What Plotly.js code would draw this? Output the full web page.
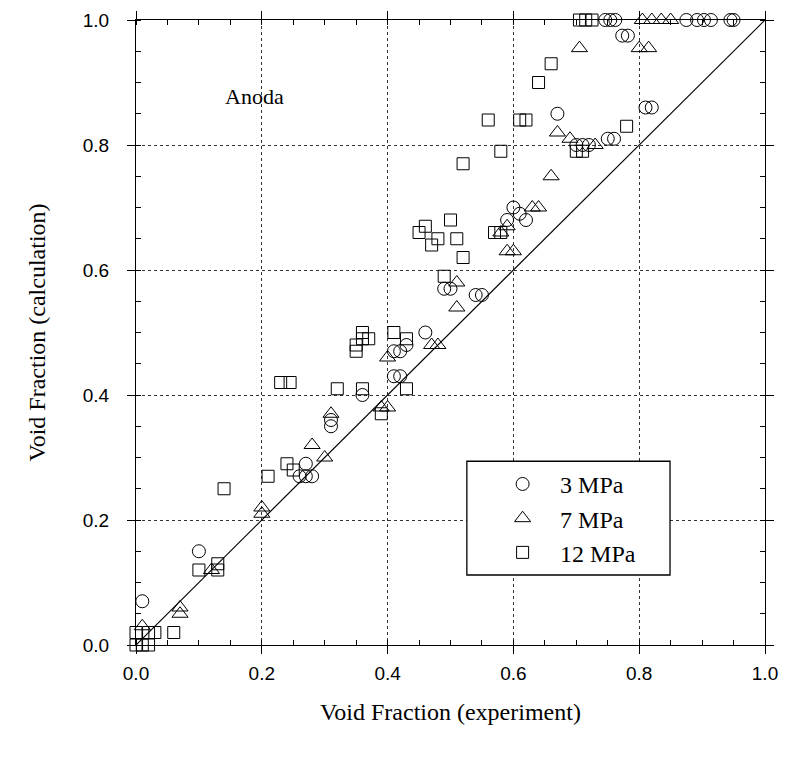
<!DOCTYPE html>
<html>
<head>
<meta charset="utf-8">
<script src="https://cdn.plot.ly/plotly-3.0.1.min.js"></script>
<style>html,body{margin:0;padding:0;background:#fff;}#chart{width:787px;height:758px;}</style>
</head>
<body>
<div id="chart"></div>
<script>
// 3 MPa (circles)
const x3 = [0.01,0.10,0.27,0.26,0.27,0.28,0.31,0.31,0.36,0.41,0.42,0.41,0.42,0.43,0.46,0.49,0.50,0.54,0.55,0.59,0.60,0.61,0.62,0.67,0.70,0.71,0.72,0.75,0.76,0.81,0.82,0.773,0.782,0.746,0.754,0.762,0.875,0.892,0.903,0.914,0.945,0.95];
const y3 = [0.07,0.15,0.29,0.27,0.27,0.27,0.35,0.36,0.40,0.43,0.43,0.47,0.47,0.48,0.50,0.57,0.57,0.56,0.56,0.68,0.70,0.69,0.68,0.85,0.80,0.80,0.80,0.81,0.81,0.86,0.86,0.975,0.975,1.0,1.0,1.0,1.0,1.0,1.0,1.0,1.0,1.0];
// 7 MPa (triangles)
const x7 = [0.01,0.07,0.07,0.12,0.20,0.20,0.28,0.30,0.31,0.39,0.40,0.40,0.47,0.48,0.51,0.51,0.58,0.59,0.59,0.60,0.63,0.64,0.66,0.67,0.69,0.73,0.705,0.80,0.815,0.805,0.82,0.835,0.85];
const y7 = [0.03,0.06,0.05,0.12,0.22,0.21,0.32,0.30,0.37,0.38,0.38,0.46,0.48,0.48,0.58,0.54,0.66,0.67,0.63,0.63,0.70,0.70,0.75,0.82,0.81,0.80,0.955,0.955,0.955,1.0,1.0,1.0,1.0];
// 12 MPa (squares)
const x12 = [0.0,0.01,0.02,0.0,0.02,0.03,0.06,0.10,0.13,0.13,0.14,0.21,0.24,0.25,0.23,0.245,0.32,0.36,0.39,0.43,0.35,0.35,0.36,0.36,0.37,0.41,0.43,0.45,0.46,0.47,0.48,0.50,0.51,0.52,0.49,0.52,0.56,0.58,0.57,0.58,0.61,0.62,0.64,0.66,0.70,0.71,0.78,0.705,0.715,0.725];
const y12 = [0.0,0.0,0.0,0.02,0.02,0.02,0.02,0.12,0.13,0.12,0.25,0.27,0.29,0.28,0.42,0.42,0.41,0.41,0.37,0.41,0.48,0.47,0.50,0.49,0.49,0.50,0.49,0.66,0.67,0.64,0.65,0.68,0.65,0.62,0.59,0.77,0.84,0.79,0.66,0.66,0.84,0.84,0.90,0.93,0.79,0.79,0.83,1.0,1.0,1.0];
// y = x reference line
const lineX = [0, 1];
const lineY = [0, 1];
const tickVals = [0, 0.2, 0.4, 0.6, 0.8, 1.0];
const tickText = ['0.0', '0.2', '0.4', '0.6', '0.8', '1.0'];
const seriesNames = ['3 MPa', '7 MPa', '12 MPa'];

const serif = 'Liberation Serif, Times New Roman, serif';
const sans = 'Liberation Sans, Arial, sans-serif';

function pts(x, y, name, symbol, size, grp) {
  return {
    x: x, y: y, name: name, type: 'scatter', mode: 'markers', cliponaxis: false,
    legendgroup: grp,
    marker: {symbol: symbol, size: size, color: '#000', line: {color: '#000', width: 1}}
  };
}

const traces = [
  {x: lineX, y: lineY, type: 'scatter', mode: 'lines', line: {color: '#000', width: 1.2}, showlegend: false, hoverinfo: 'skip'},
  pts(x3, y3, seriesNames[0], 'circle-open', 13, 'a'),
  pts(x7, y7, seriesNames[1], 'triangle-up-open', 14, 'b'),
  pts(x12, y12, seriesNames[2], 'square-open', 12, 'c')
];

const axisCommon = {
  range: [0, 1], tickmode: 'array', tickvals: tickVals, ticktext: tickText,
  showline: true, linecolor: '#000', linewidth: 1, mirror: 'ticks',
  ticks: 'outside', ticklen: 8, tickcolor: '#000', tickwidth: 1,
  showgrid: true, gridcolor: '#333', griddash: 'dot', gridwidth: 1,
  zeroline: false,
  tickfont: {family: sans, size: 19, color: '#000'},
  minor: {dtick: 0.05, ticks: 'inside', ticklen: 5, tickcolor: '#000', showgrid: false}
};

const layout = {
  width: 787, height: 758,
  margin: {l: 136, r: 22, t: 20, b: 113},
  paper_bgcolor: '#fff', plot_bgcolor: '#fff',
  showlegend: true,
  xaxis: Object.assign({}, axisCommon, {
    ticklabelstandoff: 3,
    title: {text: 'Void Fraction (experiment)', font: {family: serif, size: 24, color: '#000'}, standoff: 20}
  }),
  yaxis: Object.assign({}, axisCommon, {
    ticklabelstandoff: 14,
    title: {text: 'Void Fraction (calculation)', font: {family: serif, size: 24, color: '#000'}, standoff: 30}
  }),
  legend: {
    x: 0.555, y: 0.293, xanchor: 'left', yanchor: 'top',
    bgcolor: 'rgba(0,0,0,0)', borderwidth: 0,
    itemwidth: 65, tracegroupgap: 0,
    font: {family: serif, size: 24, color: '#000'}
  },
  shapes: [{type: 'rect', xref: 'paper', yref: 'paper', x0: 0.526, x1: 0.849, y0: 0.112, y1: 0.294, line: {color: '#000', width: 1.3}, fillcolor: '#fff', layer: 'above'}],
  annotations: [{x: 0.188, y: 0.877, xref: 'x', yref: 'y', text: 'Anoda', showarrow: false, font: {family: serif, size: 22, color: '#000'}}]
};

Plotly.newPlot('chart', traces, layout, {displayModeBar: false, staticPlot: true});
</script>
</body>
</html>
